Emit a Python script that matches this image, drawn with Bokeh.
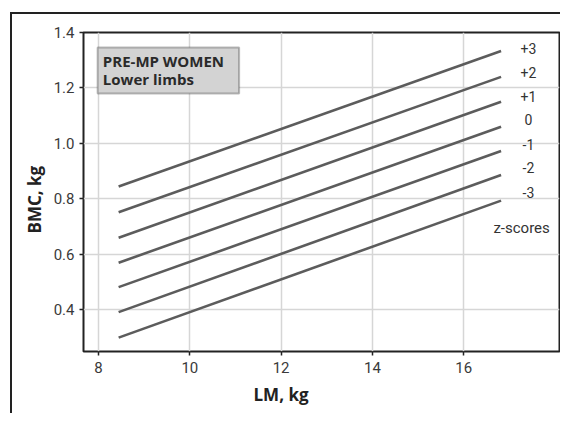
from bokeh.plotting import figure
from bokeh.models import Range1d, Label, BoxAnnotation, FixedTicker, ColumnDataSource, NumeralTickFormatter, Title
from bokeh.core.properties import value
from bokeh.embed import file_html
from bokeh.resources import INLINE

# ---- data ----
z_scores = ["-3", "-2", "-1", "0", "+1", "+2", "+3"]
lm_start = 8.44
lm_end = 16.82
bmc_start = [0.300, 0.392, 0.482, 0.570, 0.660, 0.752, 0.845]
bmc_end = [0.794, 0.886, 0.973, 1.060, 1.150, 1.240, 1.333]
label_x = 17.42
label_y = [0.823, 0.913, 0.996, 1.087, 1.169, 1.256, 1.342]
x_ticks = [8, 10, 12, 14, 16]
y_ticks = [0.4, 0.6, 0.8, 1.0, 1.2, 1.4]

TICK_FONT = "Roboto"
LINE_COLOR = "#5c5c5c"

p = figure(width=560, height=413, x_range=Range1d(7.67, 18.1), y_range=Range1d(0.25, 1.4),
           output_backend="svg", toolbar_location=None,
           min_border_left=83, min_border_right=1, min_border_top=32, min_border_bottom=62)
p.styles = {"background": "linear-gradient(#222,#222) 10px 12px / 2px 100% no-repeat, "
                          "linear-gradient(#222,#222) 10px 12px / 100% 2px no-repeat"}

p.outline_line_color = "#222222"
p.outline_line_width = 2
p.background_fill_color = "white"
p.border_fill_color = None

for ax in (p.xaxis, p.yaxis):
    ax.axis_line_color = None
    ax.major_tick_line_color = "#222222"
    ax.major_tick_line_width = 1.5
    ax.major_tick_out = 4
    ax.major_tick_in = 0
    ax.minor_tick_line_color = None
    ax.major_label_text_font = TICK_FONT
    ax.major_label_text_font_size = "15px"
    ax.major_label_text_color = "#3a3a3a"
p.xaxis.ticker = FixedTicker(ticks=x_ticks)
p.yaxis.ticker = FixedTicker(ticks=y_ticks)
p.yaxis.formatter = NumeralTickFormatter(format="0.0")
p.xaxis.major_label_standoff = 6
p.yaxis.major_label_standoff = 5

p.xgrid.ticker = FixedTicker(ticks=x_ticks)
p.ygrid.ticker = FixedTicker(ticks=y_ticks)
p.grid.grid_line_color = "#d6d6d6"
p.grid.grid_line_width = 1.5

xs = [[lm_start, lm_end] for _ in z_scores]
ys = [[s, e] for s, e in zip(bmc_start, bmc_end)]
p.multi_line(xs=xs, ys=ys, line_color=LINE_COLOR, line_width=2.6)

src = ColumnDataSource(dict(x=[label_x] * len(z_scores), y=label_y, t=z_scores))
p.text(x="x", y="y", text="t", source=src, text_font=value(TICK_FONT), text_font_size="14px",
       text_color="#333333", text_align="center", text_baseline="middle")
p.add_layout(Label(x=17.27, y=0.697, text="z-scores", text_font=TICK_FONT, text_font_size="15px",
                   text_color="#333333", text_align="center", text_baseline="middle"))

# title box
p.add_layout(BoxAnnotation(left=7.98, right=11.08, top=1.346, bottom=1.180,
                           fill_color="#d3d3d3", fill_alpha=1, line_color="#222222", line_width=2, level="annotation"))
p.add_layout(Label(x=8.094, y=1.299, text="PRE-MP WOMEN", text_font="Open Sans", text_font_style="bold",
                   text_font_size="15px", text_color="#2a2a2a", text_baseline="middle"))
p.add_layout(Label(x=8.094, y=1.234, text="Lower limbs", text_font="Open Sans", text_font_style="bold",
                   text_font_size="15px", text_color="#2a2a2a", text_baseline="middle"))

# axis titles
p.add_layout(Title(text="LM, kg", align="left", offset=170, standoff=10, text_font="Open Sans",
                   text_font_style="bold", text_font_size="17px", text_color="#222222"), "below")
p.add_layout(Title(text="BMC, kg", align="left", offset=118, standoff=9, text_font="Open Sans",
                   text_font_style="bold", text_font_size="17px", text_color="#222222"), "left")

open("out.html", "w").write(file_html(p, INLINE))
